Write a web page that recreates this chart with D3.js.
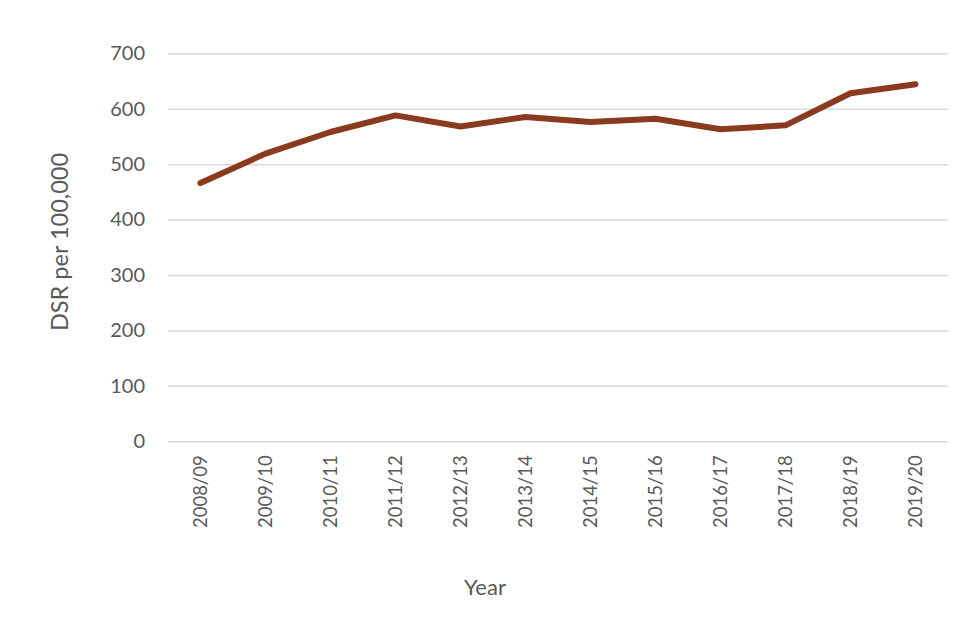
<!DOCTYPE html>
<html><head><meta charset="utf-8">
<script src="https://cdn.jsdelivr.net/npm/d3@7"></script>
<style>body{margin:0;background:#fff}svg{display:block}text{font-family:Lato,"Open Sans",sans-serif;fill:#595959}</style>
</head><body><svg id="c" width="960" height="640"></svg>
<script>
const categories = ["2008/09","2009/10","2010/11","2011/12","2012/13","2013/14","2014/15","2015/16","2016/17","2017/18","2018/19","2019/20"];
const values = [466, 519, 558, 588, 568, 585, 576, 582, 563, 570, 628, 644];
const yTicks = [0,100,200,300,400,500,600,700];
const xTitle = "Year";
const yTitle = "DSR per 100,000";

const svg = d3.select("#c");
const mLeft = 168, mRight = 948, mTop = 53.3, mBottom = 441.3;
const x = d3.scaleBand().domain(categories).range([mLeft, mRight]);
const y = d3.scaleLinear().domain([0, 700]).range([mBottom, mTop]);

const yAxis = svg.append("g").attr("transform", `translate(${mLeft},0)`)
  .call(d3.axisLeft(y).tickValues(yTicks).tickSize(-(mRight-mLeft)).tickPadding(23));
yAxis.select(".domain").remove();
yAxis.selectAll(".tick line").attr("stroke", "#d9d9d9").attr("stroke-width", 1.5);
yAxis.selectAll(".tick text").attr("font-size", 20).attr("fill", "#595959").style("font-family","Lato");

const xAxis = svg.append("g").attr("transform", `translate(0,${mBottom})`)
  .call(d3.axisBottom(x).tickSize(0));
xAxis.select(".domain").remove();
xAxis.selectAll(".tick text")
  .attr("transform", "rotate(-90)")
  .attr("text-anchor", "end")
  .attr("x", -14).attr("y", 0).attr("dy", "0.35em")
  .attr("font-size", 18.5).attr("fill", "#595959").style("font-family","Lato");

const line = d3.line().x((d,i) => x(categories[i]) + x.bandwidth()/2).y(d => y(d));
svg.append("path").datum(values).attr("d", line)
  .attr("fill", "none").attr("stroke", "#8a3a1e").attr("stroke-width", 6)
  .attr("stroke-linecap", "round").attr("stroke-linejoin", "round");

svg.append("text").attr("x", 485).attr("y", 587).attr("dy","0.35em")
  .attr("text-anchor", "middle").attr("font-size", 22).text(xTitle);
svg.append("text").attr("transform", "translate(60,242) rotate(-90)").attr("dy","0.35em")
  .attr("text-anchor", "middle").attr("font-size", 23.5).text(yTitle);
</script></body></html>
